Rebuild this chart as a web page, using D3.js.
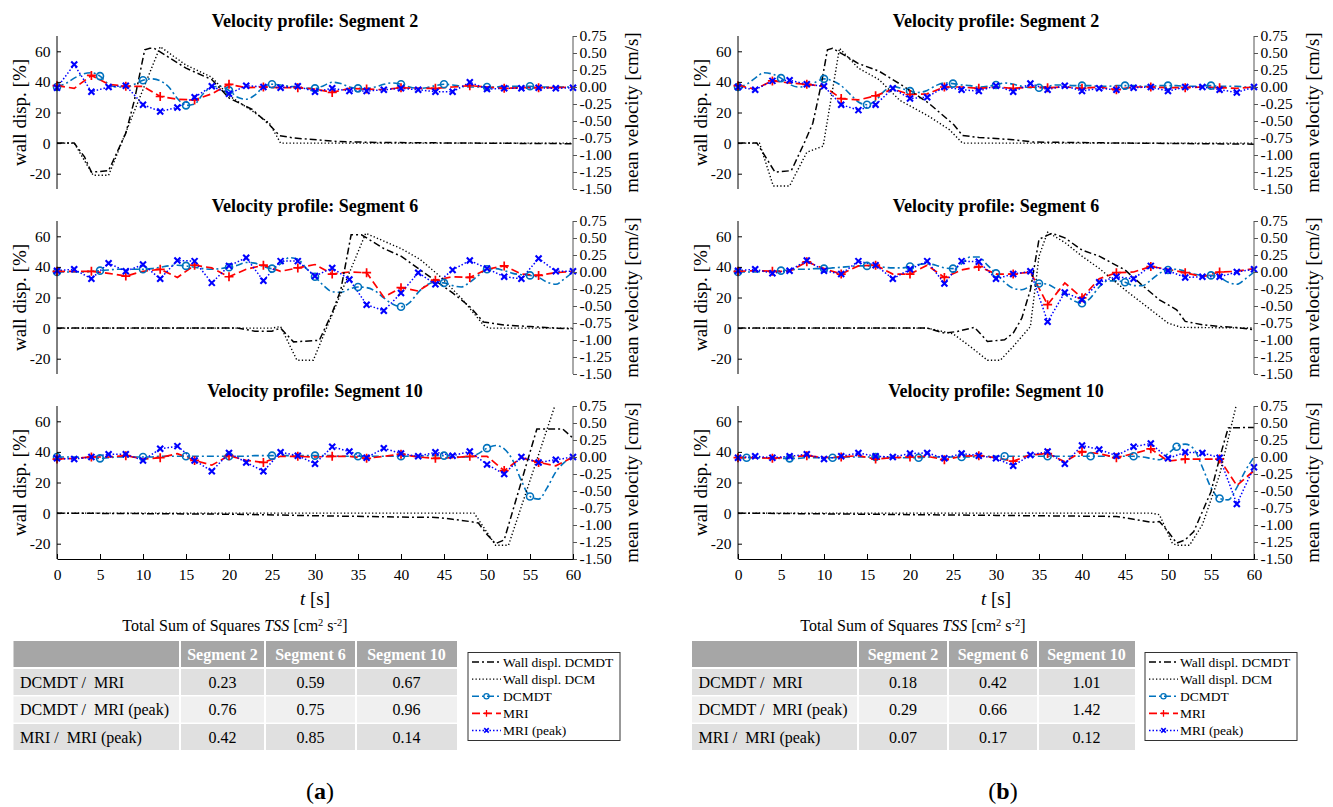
<!DOCTYPE html>
<html><head><meta charset="utf-8">
<script src="https://cdn.jsdelivr.net/npm/d3@7"></script>
<style>body{margin:0;background:#fff}svg{display:block}text{font-family:"Liberation Serif","Times New Roman",serif}</style>
</head><body><svg id="c" width="1333" height="807" font-family="Liberation Serif, serif"></svg>
<script>
// ---------- data ----------
const tFine = [0,1,2,3,4,5,6,7,8,9,10,11,12,13,14,15,16,17,18,19,20,21,22,23,24,25,26,27,28,29,30,31,32,33,34,35,36,37,38,39,40,41,42,43,44,45,46,47,48,49,50,51,52,53,54,55,56,57,58,59,60];
const tMRI = [0,2,4,6,8,10,12,14,16,18,20,22,24,26,28,30,32,34,36,38,40,42,44,46,48,50,52,54,56,58,60];
const xTicks = [0,5,10,15,20,25,30,35,40,45,50,55,60];
const yLeftTicks = [-20,0,20,40,60];
const yRightTicks = [0.75,0.5,0.25,0,-0.25,-0.5,-0.75,-1,-1.25,-1.5];
const segTitles = ['Velocity profile: Segment 2','Velocity profile: Segment 6','Velocity profile: Segment 10'];
const legendLabels = ['Wall displ. DCMDT','Wall displ. DCM','DCMDT','MRI','MRI (peak)'];
const tableCols = ['Segment 2','Segment 6','Segment 10'];
const tableRows = ['DCMDT /  MRI','DCMDT /  MRI (peak)','MRI /  MRI (peak)'];
const tssA = [[0.23,0.59,0.67],[0.76,0.75,0.96],[0.42,0.85,0.14]];
const tssB = [[0.18,0.42,1.01],[0.29,0.66,1.42],[0.07,0.17,0.12]];

// (a) Segment 2
const a2WallDcmdtT = [0,2,3.2,4,6,8,9,10.2,10.8,11.3,15,18,20,22.7,24.7,25.9,27.6,32.5,37.4,60];
const a2WallDcmdtV = [0,0,-9,-19,-18,6.5,28,61,62,62,49,41.5,29.5,22,12,4.8,3.3,1.1,0.4,-0.4];
const a2WallDcmT = [0,2,4.2,6,12,15,18,20,22.7,24.7,26,60];
const a2WallDcmV = [0,0,-21,-21,63,51,43,31,21,13,0,0];
const a2Dcmdt = [0.00,0.05,0.13,0.19,0.21,0.16,0.04,0.00,0.00,0.04,0.10,0.12,0.09,0.00,-0.17,-0.27,-0.25,-0.10,0.00,0.01,-0.05,-0.15,-0.18,-0.12,0.00,0.04,0.03,0.01,0.00,-0.02,-0.02,0.02,0.07,0.05,0.00,-0.02,-0.02,0.00,0.04,0.06,0.04,0.00,-0.02,-0.01,0.02,0.04,0.03,0.01,0.00,0.00,0.00,0.00,0.01,0.01,0.01,0.01,0.00,0.00,0.00,0.00,0.00];
const a2Mri = [0.02,-0.02,0.17,0.04,0.01,0.01,-0.14,-0.18,-0.19,-0.10,0.04,-0.01,0.00,-0.01,-0.01,-0.03,-0.08,-0.02,-0.03,-0.04,-0.01,-0.02,-0.02,0.00,0.02,0.00,-0.02,-0.01,-0.01,-0.01,0.00];
const a2MriPeak = [-0.01,0.33,-0.07,0.00,0.02,-0.26,-0.36,-0.30,-0.15,0.01,-0.10,0.02,0.00,-0.01,0.01,-0.07,-0.02,-0.06,-0.06,-0.04,-0.02,-0.04,-0.07,-0.07,0.07,-0.03,-0.02,-0.02,-0.01,-0.02,-0.01];
// (a) Segment 6
const a6WallDcmdtT = [0,21,23,25,26,27.5,30.5,32,33,34.2,35.4,38,40,42,44,46,48,49.6,52,55,58,60];
const a6WallDcmdtV = [0,0,-2,-2,0,-9,-8,10,25,61,61,52,47,39,31,23,14,4,2,1,0,-0.5];
const a6WallDcmT = [0,25,26,27.9,29.8,35.9,40,42.2,44.7,47.1,49.6,50.2,60];
const a6WallDcmV = [0,0,1,-21,-21,62,52,45,33,19,2,0,0];
const a6Dcmdt = [0.00,0.00,0.00,0.00,0.01,0.02,0.03,0.04,0.04,0.04,0.04,0.05,0.07,0.09,0.10,0.09,0.07,0.05,0.04,0.05,0.07,0.10,0.14,0.13,0.08,0.05,0.12,0.21,0.19,0.05,-0.07,-0.20,-0.29,-0.30,-0.25,-0.22,-0.23,-0.28,-0.38,-0.47,-0.51,-0.45,-0.30,-0.19,-0.15,-0.16,-0.20,-0.22,-0.15,-0.05,0.04,0.05,0.02,-0.02,-0.04,-0.05,-0.08,-0.15,-0.18,-0.10,0.00];
const a6Mri = [0.01,0.01,0.01,-0.02,-0.06,0.01,0.04,-0.08,0.10,0.06,-0.07,0.04,0.10,0.01,0.06,0.11,-0.03,0.00,-0.01,-0.37,-0.23,-0.28,-0.12,-0.07,-0.08,0.04,0.09,-0.03,-0.05,-0.01,0.01];
const a6MriPeak = [0.02,0.04,-0.10,0.13,0.01,0.11,-0.10,0.17,0.16,-0.16,0.09,0.21,-0.13,0.16,0.16,-0.06,0.06,-0.11,-0.48,-0.57,-0.31,-0.01,-0.18,0.03,0.17,0.05,-0.07,-0.10,0.20,0.01,0.01];
// (a) Segment 10
const a10WallDcmdtT = [0,20,30,40,44,46,48,49,50,51,52,55.8,58.8,60];
const a10WallDcmdtV = [0,-0.7,-1.7,-2.6,-2.8,-4,-5.5,-6.5,-14,-20,-17.5,55,55,49];
const a10WallDcmT = [0,48.5,51,52.5,58,60];
const a10WallDcmV = [0,0,-21,-21,72,72];
const a10Dcmdt = [0.00,0.00,0.00,-0.01,-0.01,-0.02,-0.01,0.00,0.00,0.00,0.00,0.00,0.01,0.01,0.01,0.01,0.01,0.01,0.01,0.01,0.01,0.01,0.01,0.02,0.02,0.02,0.02,0.02,0.02,0.02,0.02,0.02,0.02,0.01,0.01,0.01,0.01,0.01,0.01,0.01,0.01,0.01,0.01,0.02,0.02,0.02,0.01,0.00,0.00,0.05,0.13,0.17,0.12,-0.05,-0.35,-0.58,-0.62,-0.45,-0.22,-0.08,0.00];
const a10Mri = [-0.03,-0.02,0.00,0.00,0.02,-0.03,-0.01,0.05,-0.05,-0.12,0.02,-0.05,-0.08,0.01,0.01,0.00,0.01,0.01,-0.02,0.01,0.04,0.00,-0.02,-0.01,0.01,0.01,-0.20,-0.01,-0.08,-0.13,0.00];
const a10MriPeak = [-0.02,-0.03,0.00,0.04,0.04,-0.05,0.12,0.16,-0.05,-0.21,0.06,-0.08,-0.21,0.07,0.02,-0.10,0.15,0.08,-0.01,0.13,0.05,0.01,0.07,0.02,0.08,-0.11,-0.25,0.00,-0.08,-0.04,0.00];
// (b) Segment 2
const b2WallDcmdtT = [0,2.2,4.3,6.2,7.7,8.7,9.7,10.4,11,11.3,14,16.4,19.3,22.2,25.1,26.1,28,32,34.3,45,60];
const b2WallDcmdtV = [0,0,-19,-18,0,13,39,61,62,61,52,47,37,26,12,5,3.7,2.2,0.7,0,-0.7];
const b2WallDcmT = [0,2.5,4.1,6,8,9.9,11.8,14,16.4,18.8,22.2,24.6,26.1,60];
const b2WallDcmV = [0,0,-28,-28,-6,-2,62,49,41.5,28,17.5,8.7,0,0];
const b2Dcmdt = [0.00,0.04,0.13,0.21,0.19,0.13,0.04,0.00,0.01,0.07,0.12,0.09,0.02,-0.10,-0.22,-0.26,-0.20,-0.06,0.01,-0.02,-0.06,-0.08,-0.05,0.02,0.06,0.05,0.03,0.02,0.00,0.01,0.03,0.06,0.04,0.01,-0.01,-0.01,0.01,0.03,0.03,0.02,0.02,0.02,0.01,0.01,0.02,0.02,0.02,0.01,0.01,0.02,0.02,0.02,0.01,0.01,0.02,0.02,0.01,0.01,0.01,0.00,0.00];
const b2Mri = [0.02,-0.03,0.09,0.06,0.04,0.01,-0.17,-0.19,-0.13,-0.03,-0.11,-0.10,0.00,0.00,-0.02,0.00,-0.02,0.00,-0.01,0.00,-0.02,0.00,-0.04,0.00,0.00,-0.01,-0.01,0.00,-0.01,-0.02,0.00];
const b2MriPeak = [0.00,-0.04,0.09,0.10,0.04,0.01,-0.26,-0.34,-0.26,-0.02,-0.17,-0.15,0.00,-0.04,-0.06,0.02,-0.07,0.05,-0.04,0.02,-0.06,-0.02,-0.04,-0.01,0.00,-0.06,0.00,0.00,-0.04,-0.08,0.00];
// (b) Segment 6
const b6WallDcmdtT = [0,22,24,25.5,27.5,29,31,32,33,34,35,36.5,38,40,42,45,47,49,51,52,54,56,58,60];
const b6WallDcmdtV = [0,0,-3.3,-2.2,0.5,-8.7,-7.6,-3.3,6.5,25,58,62,59,51,47,38,28,18.5,12,4.4,2.2,1,0.4,-1.1];
const b6WallDcmT = [0,22,25,27,29,30.5,32,34,35,36,38,40,42,45,48,50,51.5,60];
const b6WallDcmV = [0,0,-3.7,-12,-21,-21,-12,1,47,62.7,56,47,39,25,12,3.3,0.5,0];
const b6Dcmdt = [0.00,0.00,0.00,0.01,0.01,0.02,0.03,0.04,0.04,0.05,0.05,0.06,0.07,0.08,0.09,0.09,0.08,0.07,0.06,0.06,0.08,0.11,0.12,0.10,0.06,0.05,0.12,0.22,0.22,0.10,-0.02,-0.15,-0.24,-0.26,-0.21,-0.17,-0.18,-0.25,-0.33,-0.42,-0.46,-0.38,-0.22,-0.13,-0.13,-0.15,-0.20,-0.20,-0.12,-0.02,0.03,0.04,0.01,-0.03,-0.05,-0.05,-0.08,-0.15,-0.18,-0.10,0.00];
const b6Mri = [0.01,0.02,0.01,0.01,0.15,0.05,-0.03,0.09,0.10,-0.03,-0.03,0.10,-0.08,0.03,0.08,-0.03,-0.03,0.00,-0.48,-0.16,-0.38,-0.10,-0.01,0.00,0.08,0.04,-0.01,-0.07,0.00,0.01,0.05];
const b6MriPeak = [0.02,0.04,-0.02,0.02,0.17,0.02,-0.03,0.16,0.10,-0.10,0.04,0.16,-0.17,0.16,0.15,-0.10,-0.03,0.01,-0.73,-0.30,-0.41,-0.15,-0.07,-0.10,0.09,0.02,-0.08,-0.07,-0.07,0.00,0.04];
// (b) Segment 10
const b10WallDcmdtT = [0,30,44,46,48,49,50,51,52,53,55,56,57,60];
const b10WallDcmdtV = [0,-1.5,-2.2,-4,-6,-5.5,-12,-19.6,-17.5,-12,14,36,55.7,56];
const b10WallDcmT = [0,48,49,50.5,51,52.5,54,56,58,60];
const b10WallDcmV = [0,0,-1,-19.6,-21,-21,-7.6,25,72,72];
const b10Dcmdt = [0.00,-0.01,-0.01,-0.01,-0.01,-0.02,-0.02,-0.02,-0.01,-0.01,-0.01,-0.01,0.00,0.00,0.00,0.00,0.00,0.00,-0.01,-0.01,-0.01,-0.01,0.00,0.00,0.00,0.00,0.00,0.00,0.01,0.01,0.01,0.01,0.01,0.01,0.01,0.01,0.01,0.01,0.01,0.01,0.01,0.01,0.01,0.01,0.01,0.01,0.01,0.00,-0.02,-0.04,0.05,0.15,0.19,0.12,-0.15,-0.45,-0.61,-0.63,-0.45,-0.20,0.00];
const b10Mri = [-0.01,-0.01,-0.02,0.00,0.02,-0.01,0.00,0.02,-0.03,-0.01,0.00,0.01,-0.04,0.01,0.02,-0.01,-0.06,0.03,0.05,-0.07,0.08,0.05,-0.01,0.05,0.12,-0.06,-0.03,-0.03,-0.03,-0.42,-0.20];
const b10MriPeak = [-0.01,0.01,-0.01,0.01,0.04,-0.03,0.01,0.06,0.01,0.00,0.05,0.06,-0.02,0.05,0.02,-0.02,-0.13,0.03,0.08,-0.10,0.17,0.11,0.02,0.15,0.20,-0.02,0.07,0.06,-0.01,-0.69,-0.15];

// ---------- layout ----------
const FONT = '"Liberation Serif","Times New Roman",serif';
const figs = [
  {x0:57, x1:573, tab:[13.5,180,265,356,457], legX:468, tss:tssA, lab:'a', labX:320, tTitleX:235},
  {x0:738, x1:1254, tab:[692,858,948,1038,1135], legX:1145, tss:tssB, lab:'b', labX:1003, tTitleX:913}
];
const panels = [
  {fig:0,row:0,wT:a2WallDcmdtT,wV:a2WallDcmdtV,dT:a2WallDcmT,dV:a2WallDcmV,dc:a2Dcmdt,mri:a2Mri,pk:a2MriPeak,cStart:0},
  {fig:0,row:1,wT:a6WallDcmdtT,wV:a6WallDcmdtV,dT:a6WallDcmT,dV:a6WallDcmV,dc:a6Dcmdt,mri:a6Mri,pk:a6MriPeak,cStart:0},
  {fig:0,row:2,wT:a10WallDcmdtT,wV:a10WallDcmdtV,dT:a10WallDcmT,dV:a10WallDcmV,dc:a10Dcmdt,mri:a10Mri,pk:a10MriPeak,cStart:0},
  {fig:1,row:0,wT:b2WallDcmdtT,wV:b2WallDcmdtV,dT:b2WallDcmT,dV:b2WallDcmV,dc:b2Dcmdt,mri:b2Mri,pk:b2MriPeak,cStart:0},
  {fig:1,row:1,wT:b6WallDcmdtT,wV:b6WallDcmdtV,dT:b6WallDcmT,dV:b6WallDcmV,dc:b6Dcmdt,mri:b6Mri,pk:b6MriPeak,cStart:0},
  {fig:1,row:2,wT:b10WallDcmdtT,wV:b10WallDcmdtV,dT:b10WallDcmT,dV:b10WallDcmV,dc:b10Dcmdt,mri:b10Mri,pk:b10MriPeak,cStart:1}
];
const tops = [36,221,406], H = 153;
const ST = {
  wallDT:{c:'#000', w:1.5, dash:'7,3,2,3'},
  wallDCM:{c:'#000', w:1.4, dash:'1.3,2.2'},
  dcmdt:{c:'#0072BD', w:1.6, dash:'7,3,2,3'},
  mri:{c:'#FF0000', w:1.7, dash:'8,4'},
  peak:{c:'#0000FF', w:1.5, dash:'1.5,2'}
};
const svg = d3.select('#c');
const defs = svg.append('defs');

function drawMarker(sel, type){
  if(type==='o') sel.append('circle').attr('r',3.5).attr('fill','none').attr('stroke',ST.dcmdt.c).attr('stroke-width',1.6);
  else if(type==='+') sel.append('path').attr('d','M-4.5,0H4.5M0,-4.5V4.5').attr('stroke',ST.mri.c).attr('stroke-width',1.7);
  else if(type==='x') sel.append('path').attr('d','M-3,-3L3,3M-3,3L3,-3').attr('stroke',ST.peak.c).attr('stroke-width',2.1);
}
function styleLine(p, s){ p.attr('fill','none').attr('stroke',s.c).attr('stroke-width',s.w).attr('stroke-dasharray',s.dash); }
const numFmt = (k)=> d => (d<0?'-':'') + Math.abs(d).toFixed(k);
function txt(sel){ return sel.attr('font-family',FONT).style('font-family',FONT); }

panels.forEach((p,i)=>{
  const f = figs[p.fig], top = tops[p.row];
  const x = d3.scaleLinear().domain([0,60]).range([f.x0,f.x1]);
  const yL = d3.scaleLinear().domain([-30,70]).range([top+H, top]);
  const yR = d3.scaleLinear().domain([-1.5,0.75]).range([top+H, top]);
  const g = svg.append('g');
  const cid = 'clip'+i;
  defs.append('clipPath').attr('id',cid).append('rect').attr('x',f.x0).attr('y',top).attr('width',f.x1-f.x0).attr('height',H);
  const lg = g.append('g').attr('clip-path',`url(#${cid})`);

  const lineR = (T)=> d3.line().x((d,j)=>x(T[j])).y(d=>yR(d));
  styleLine(lg.append('path').attr('d', lineR(tFine).curve(d3.curveMonotoneX)(p.dc)), ST.dcmdt);
  styleLine(lg.append('path').attr('d', lineR(tMRI)(p.mri)), ST.mri);
  styleLine(lg.append('path').attr('d', lineR(tMRI)(p.pk)), ST.peak);
  const lineL = (T)=> d3.line().x((d,j)=>x(T[j])).y(d=>yL(d));
  styleLine(lg.append('path').attr('d', lineL(p.dT)(p.dV)), ST.wallDCM);
  styleLine(lg.append('path').attr('d', lineL(p.wT)(p.wV)), ST.wallDT);

  tFine.forEach((t,j)=>{ if(t>=p.cStart && (t-p.cStart)%5===0 && t<60){ drawMarker(g.append('g').attr('transform',`translate(${x(t)},${yR(p.dc[j])})`),'o'); } });
  tMRI.forEach((t,j)=>{ if(t%4===0 && t<60){ drawMarker(g.append('g').attr('transform',`translate(${x(t)},${yR(p.mri[j])})`),'+'); } });
  tMRI.forEach((t,j)=>{ drawMarker(g.append('g').attr('transform',`translate(${x(t)},${yR(p.pk[j])})`),'x'); });

  const aL = g.append('g').attr('transform',`translate(${f.x0},0)`)
    .call(d3.axisLeft(yL).tickValues(yLeftTicks).tickFormat(numFmt(0)).tickSizeInner(-4).tickSizeOuter(0).tickPadding(6.5));
  txt(aL.selectAll('text')).attr('font-size',15.5).attr('fill','#000');
  aL.selectAll('line').attr('stroke','#000');
  const aR = g.append('g').attr('transform',`translate(${f.x1},0)`)
    .call(d3.axisRight(yR).tickValues(yRightTicks).tickFormat(numFmt(2)).tickSizeInner(4).tickSizeOuter(0).tickPadding(2.5));
  txt(aR.selectAll('text')).attr('font-size',15.5).attr('fill','#000');
  aR.selectAll('line').attr('stroke','#555');
  aL.select('.domain').remove(); aR.select('.domain').remove();
  g.append('line').attr('x1',f.x0).attr('x2',f.x0).attr('y1',top).attr('y2',top+H).attr('stroke','#000');
  g.append('line').attr('x1',f.x1).attr('x2',f.x1).attr('y1',top).attr('y2',top+H).attr('stroke','#555');
  if(p.row===2){
    const aB = g.append('g').attr('transform',`translate(0,${top+H})`)
      .call(d3.axisBottom(x).tickValues(xTicks).tickFormat(numFmt(0)).tickSizeInner(-5).tickSizeOuter(0).tickPadding(10));
    txt(aB.selectAll('text')).attr('font-size',15.5).attr('fill','#000');
    aB.selectAll('path,line').attr('stroke','#000');
    const tl = txt(g.append('text')).attr('x',(f.x0+f.x1)/2).attr('y',605).attr('text-anchor','middle').attr('font-size',19);
    tl.append('tspan').attr('font-style','italic').text('t');
    tl.append('tspan').text(' [s]');
  }
  txt(g.append('text')).attr('x',(f.x0+f.x1)/2).attr('y',top-9.5).attr('text-anchor','middle')
    .attr('font-size',18).attr('font-weight','bold').text(segTitles[p.row]);
  txt(g.append('text')).attr('transform',`translate(${f.x0-38},${top+H/2}) rotate(-90)`).attr('text-anchor','middle')
    .attr('dominant-baseline','central').attr('font-size',19).text('wall disp. [%]');
  txt(g.append('text')).attr('transform',`translate(${f.x1+58},${top+H/2}) rotate(-90)`).attr('text-anchor','middle')
    .attr('dominant-baseline','central').attr('font-size',19).text('mean velocity [cm/s]');
});

// ---------- tables + legends ----------
figs.forEach(f=>{
  const g = svg.append('g');
  const tt = txt(g.append('text')).attr('x',f.tTitleX).attr('y',631).attr('text-anchor','middle').attr('font-size',16);
  tt.append('tspan').text('Total Sum of Squares ');
  tt.append('tspan').attr('font-style','italic').text('TSS');
  tt.append('tspan').text(' [cm');
  tt.append('tspan').attr('font-size',10.5).attr('dy',-5.5).text('2');
  tt.append('tspan').attr('dy',5.5).text(' s');
  tt.append('tspan').attr('font-size',10.5).attr('dy',-5.5).text('-2');
  tt.append('tspan').attr('dy',5.5).text(']');

  const rowY = [641,669,696.5,724], rh = 26;
  const fills = ['#a6a6a6','#e0e0e0','#f0f0f0','#e0e0e0'];
  rowY.forEach((y,r)=>{
    for(let c=0;c<4;c++){
      g.append('rect').attr('x',f.tab[c]+(c?1:0)).attr('y',y).attr('width',f.tab[c+1]-f.tab[c]-(c?1:0)-(c<3?1:0)).attr('height',rh).attr('fill',fills[r]);
    }
  });
  tableCols.forEach((s,c)=>{
    txt(g.append('text')).attr('x',(f.tab[c+1]+f.tab[c+2])/2).attr('y',rowY[0]+rh/2+5.5).attr('text-anchor','middle')
      .attr('font-size',16).attr('font-weight','bold').attr('fill','#fff').text(s);
  });
  tableRows.forEach((s,r)=>{
    txt(g.append('text')).attr('x',f.tab[0]+6.5).attr('y',rowY[r+1]+rh/2+5.5).attr('font-size',16).style('white-space','pre').text(s);
    f.tss[r].forEach((v,c)=>{
      txt(g.append('text')).attr('x',(f.tab[c+1]+f.tab[c+2])/2).attr('y',rowY[r+1]+rh/2+5.5).attr('text-anchor','middle')
        .attr('font-size',16).text(v.toFixed(2));
    });
  });

  const lx = f.legX, ly = 652.5;
  g.append('rect').attr('x',lx).attr('y',ly).attr('width',152).attr('height',88).attr('fill','#fff').attr('stroke','#333').attr('stroke-width',1);
  const keys = ['wallDT','wallDCM','dcmdt','mri','peak'], mk = [null,null,'o','+','x'];
  legendLabels.forEach((s,k)=>{
    const y = 662 + k*17.1;
    styleLine(g.append('path').attr('d',`M${lx+4},${y}H${lx+33}`), ST[keys[k]]);
    if(mk[k]){
      const m = g.append('g').attr('transform',`translate(${lx+18.5},${y}) scale(0.75)`);
      drawMarker(m, mk[k]);
    }
    txt(g.append('text')).attr('x',lx+35).attr('y',y+4.5).attr('font-size',13.5).text(s);
  });

  const lab = txt(g.append('text')).attr('x',f.labX).attr('y',799).attr('text-anchor','middle').attr('font-size',24);
  lab.append('tspan').text('(');
  lab.append('tspan').attr('font-weight','bold').text(f.lab);
  lab.append('tspan').text(')');
});
</script>
</body></html>
